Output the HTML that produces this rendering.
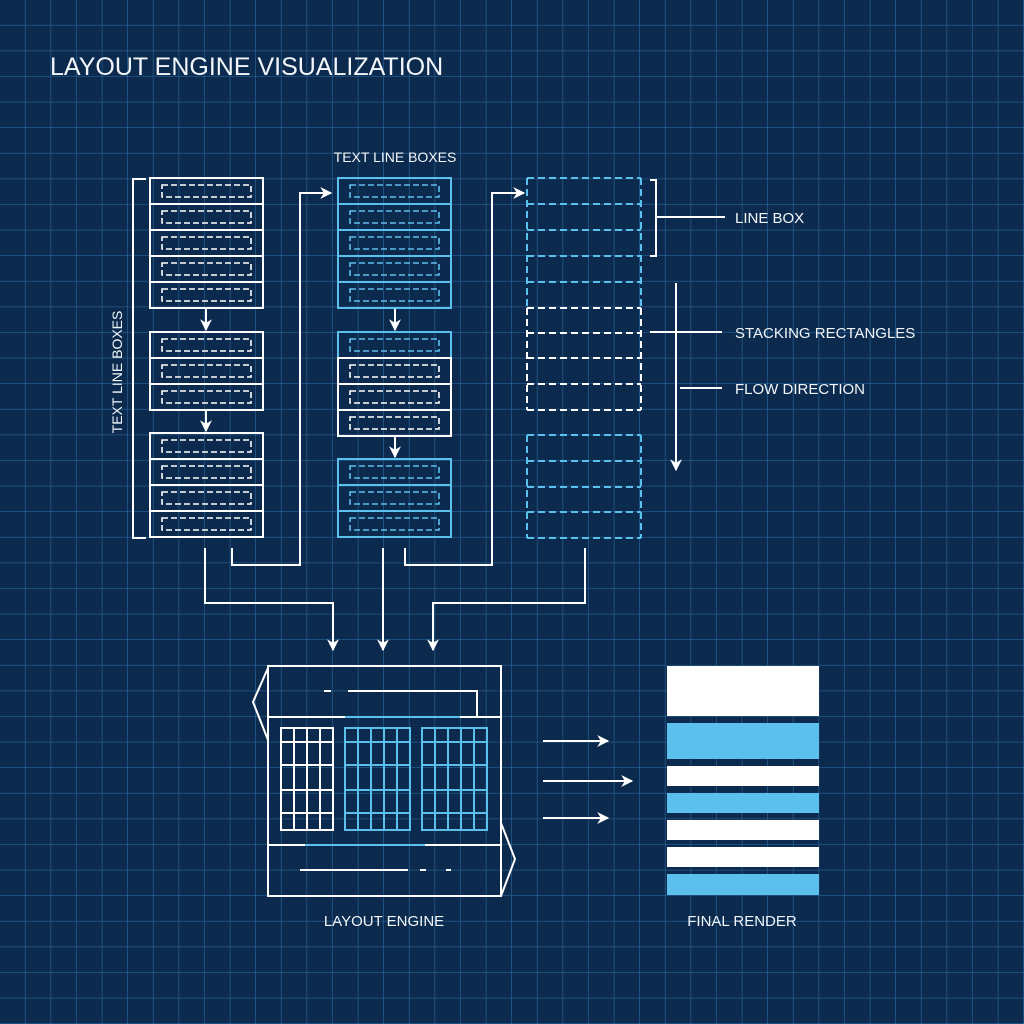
<!DOCTYPE html>
<html><head><meta charset="utf-8">
<style>
html,body{margin:0;padding:0;background:#0a2748;}
svg{display:block}
text{font-family:"Liberation Sans",sans-serif;fill:#f2f6fa}
</style></head>
<body>
<svg id="s" width="1024" height="1024" viewBox="0 0 1024 1024" xmlns="http://www.w3.org/2000/svg">
<defs>
<pattern id="g" width="25.6" height="25.6" patternUnits="userSpaceOnUse">
<path d="M25.6 0V25.6M0 25.6H25.6" stroke="#2a649a" stroke-width="1.3" fill="none"/>
</pattern>
<marker id="a2" viewBox="0 0 10 10" refX="9" refY="5" markerWidth="12" markerHeight="12" orient="auto" markerUnits="userSpaceOnUse">
<path d="M0 0L10 5L0 10L3 5Z" fill="#fff"/></marker>
</defs>
<rect width="1024" height="1024" fill="#0b2a4d"/>
<rect width="1024" height="1024" fill="url(#g)"/>
<g id="shapes"></g>
<text x="50" y="75" font-size="25">LAYOUT ENGINE VISUALIZATION</text>
<text x="395" y="162" font-size="14" text-anchor="middle">TEXT LINE BOXES</text>
<text x="0" y="0" font-size="14" text-anchor="middle" transform="translate(122,372) rotate(-90)">TEXT LINE BOXES</text>
<text x="735" y="223" font-size="15">LINE BOX</text>
<text x="735" y="338" font-size="15">STACKING RECTANGLES</text>
<text x="735" y="394" font-size="15">FLOW DIRECTION</text>
<text x="384" y="926" font-size="15" text-anchor="middle">LAYOUT ENGINE</text>
<text x="742" y="926" font-size="15" text-anchor="middle">FINAL RENDER</text>
</svg>
<script>
const g=document.getElementById('shapes');let h='';
const W='#ffffff',B='#5cc0ec';
function row(x,y,w,hh,c){h+=`<rect x="${x}" y="${y}" width="${w}" height="${hh}" fill="none" stroke="${c}" stroke-width="2"/>`;
 h+=`<rect x="${x+12}" y="${y+7}" width="${w-24}" height="${hh-14}" fill="none" stroke="${c}" stroke-width="1.6" stroke-dasharray="6 3"/>`;}
function group(x,y,n,cols){const rh=26;for(let i=0;i<n;i++)row(x,y+i*rh,113,rh,cols[i]);}
group(150,178,5,[W,W,W,W,W]);group(150,332,3,[W,W,W]);group(150,433,4,[W,W,W,W]);
group(338,178,5,[B,B,B,B,B]);group(338,332,4,[B,W,W,W]);group(338,459,3,[B,B,B]);
// col3 dashed: horizontal lines and vertical segments
const D=(d,c)=>h+=`<path d="${d}" fill="none" stroke="${c}" stroke-width="2" stroke-dasharray="7 4"/>`;
let ys=[178,204,230,256,282,308,333,358,384,410];
ys.forEach((y,i)=>D(`M527 ${y}H641`,i<5?B:W));
D('M527 178V308M641 178V308',B);D('M527 308V410M641 308V410',W);
[435,461,487,512,538].forEach(y=>D(`M527 ${y}H641`,B));
D('M527 435V538M641 435V538',B);
h+=`<path d="M146 179H133V538H146" fill="none" stroke="#fff" stroke-width="2"/>`;
const L=(d,m)=>h+=`<path d="${d}" fill="none" stroke="#fff" stroke-width="2" ${m?'marker-end="url(#'+m+')"':''}/>`;
L('M206 309V330','a2');L('M206 411V431','a2');L('M395 309V330','a2');L('M395 437V457','a2');
L('M205 548V603H333V650','a2');
L('M232 548V565H300V193H331','a2');
L('M383 548V650','a2');
L('M405 548V565H492V193H524','a2');
L('M585 548V603H433V650','a2');
L('M650 180H656V256H650');L('M656 217H725');
L('M650 332H722');L('M680 388H722');L('M676 283V470','a2');
L('M268 666H501V896H268Z');L('M268 717H501');L('M268 845H501');
L('M268 668L253 702L268 740');L('M501 823L515 859L501 896');
L('M324 691H331');L('M348 691H477V716');
L('M300 870H408');L('M420 870H426');L('M446 870H451');
h+=`<path d="M345 717H460M305 845H425" stroke="${B}" stroke-width="2"/>`;
function grid(x,y,w,hh,nc,rows,c){h+=`<rect x="${x}" y="${y}" width="${w}" height="${hh}" fill="none" stroke="${c}" stroke-width="2"/>`;
 for(let i=1;i<nc;i++){const xx=x+w*i/nc;h+=`<path d="M${xx} ${y}V${y+hh}" stroke="${c}" stroke-width="2"/>`;}
 rows.forEach(r=>h+=`<path d="M${x} ${r}H${x+w}" stroke="${c}" stroke-width="2"/>`);}
const rr=[742,765,790,813];
grid(281,728,52,102,4,rr,W);grid(345,728,65,102,5,rr,B);grid(422,728,65,102,5,rr,B);
L('M543 741H608','a2');L('M543 781H632','a2');L('M543 818H608','a2');
[[666,716,W],[723,759,B],[766,786,W],[793,813,B],[820,840,W],[847,867,W],[874,895,B]].forEach(b=>h+=`<rect x="667" y="${b[0]}" width="152" height="${b[1]-b[0]}" fill="${b[2]}"/>`);
g.innerHTML=h;
</script>
</body></html>
